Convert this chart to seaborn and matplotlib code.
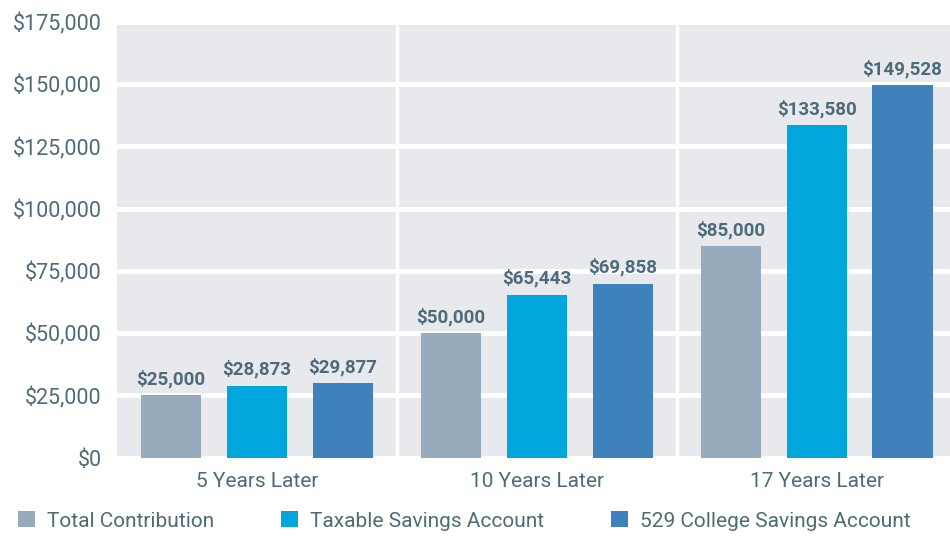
import pandas as pd
import matplotlib.pyplot as plt
import seaborn as sns
from matplotlib.ticker import FuncFormatter, FixedLocator

# values
periods = ['5 Years Later', '10 Years Later', '17 Years Later']
accounts = ['Total Contribution', 'Taxable Savings Account', '529 College Savings Account']
total_contribution = [25000, 50000, 85000]
taxable_savings = [28873, 65443, 133580]
college_529 = [29877, 69858, 149528]
colors = ['#98abbc', '#00a6dc', '#3f82bb']
text_col = '#4e6b7a'

rows = []
for i, p in enumerate(periods):
    rows.append([p, accounts[0], total_contribution[i]])
    rows.append([p, accounts[1], taxable_savings[i]])
    rows.append([p, accounts[2], college_529[i]])
df = pd.DataFrame(rows, columns=['period', 'account', 'value'])

sns.set_theme(style='darkgrid', rc={'axes.facecolor': '#e8e9ed',
                                    'grid.color': 'white', 'grid.linewidth': 2.5})
plt.rcParams['font.family'] = ['Roboto', 'DejaVu Sans']

fig = plt.figure(figsize=(9.5, 5.36), dpi=100)
ax = fig.add_axes([0.123, 0.146, 0.884, 0.813])

sns.barplot(data=df, x='period', y='value', hue='account', palette=colors,
            width=0.92, gap=0.3, ax=ax, saturation=1, legend=True, linewidth=0)

for c in ax.containers:
    ax.bar_label(c, labels=['${:,.0f}'.format(v) for v in c.datavalues],
                 padding=5, fontsize=13.5, fontweight='bold', color=text_col)

ax.set_ylim(0, 175000)
ax.set_xlim(-0.5, 2.5)
ax.yaxis.set_major_locator(FixedLocator(range(0, 175001, 25000)))
ax.yaxis.set_major_formatter(FuncFormatter(lambda v, p: '${:,.0f}'.format(v)))
ax.xaxis.set_minor_locator(FixedLocator([0.5, 1.5]))
ax.grid(axis='x', which='major', visible=False)
ax.grid(axis='x', which='minor', color='white', linewidth=2.5)
ax.grid(axis='y', which='major', color='white', linewidth=3.5)
ax.tick_params(axis='y', labelsize=15.5, labelcolor=text_col, pad=5)
ax.tick_params(axis='x', labelsize=15, labelcolor=text_col, pad=4)
ax.tick_params(which='minor', length=0)
ax.set_xlabel('')
ax.set_ylabel('')
for s in ax.spines.values():
    s.set_visible(False)

handles, labels = ax.get_legend_handles_labels()
ax.legend(handles, labels, loc='upper left', bbox_to_anchor=(-0.14, -0.08),
          ncol=3, frameon=False, fontsize=15, labelcolor=text_col,
          handlelength=0.8, handleheight=0.8, handletextpad=0.6, columnspacing=3.2)

fig.savefig('out.png', dpi=100, facecolor='white')
